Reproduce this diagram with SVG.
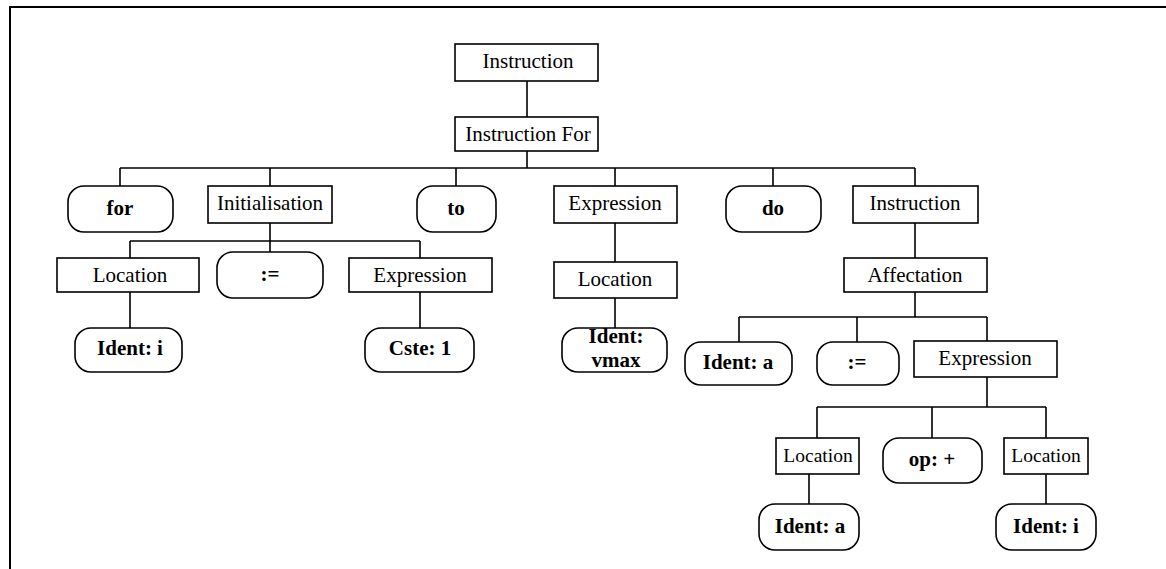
<svg xmlns="http://www.w3.org/2000/svg" width="1166" height="569" viewBox="0 0 1166 569">
<style>
.box{fill:#fff;stroke:#000;stroke-width:1.6}
.pill{fill:#fff;stroke:#000;stroke-width:1.6}
.t{font-family:"Liberation Serif","Times New Roman",serif;font-size:21px;text-anchor:middle;fill:#000}
.b{font-weight:bold}
.s{font-size:19.5px}
.c{fill:none;stroke:#000;stroke-width:1.6}
</style>
<rect width="1166" height="569" fill="#fff"/>
<path d="M10,569 V7 H1166" fill="none" stroke="#000" stroke-width="2"/>
<g id="connectors" class="c">
<path d="M527,81 V117 M527,151 V168 M120,168 H915 M120,168 V186 M270,168 V186 M456,168 V186 M615,168 V186 M773,168 V186 M915,168 V186"/>
<path d="M270,223 V241 M130,241 H420 M130,241 V258 M270,241 V252 M420,241 V258 M130,292 V328 M420,292 V328"/>
<path d="M615,223 V262 M615,298 V328"/>
<path d="M915,223 V258 M915,292 V317 M739,317 H987 M739,317 V342 M857,317 V342 M987,317 V341"/>
<path d="M987,377 V407 M817,407 H1046 M817,407 V438 M932,407 V438 M1046,407 V438 M809,474 V504 M1046,474 V504"/>
</g>
<g id="n-instruction"><rect class="box" x="455" y="44" width="143" height="37"/><text class="t" x="528" y="68">Instruction</text></g>
<g id="n-instrfor"><rect class="box" x="455" y="117" width="143" height="34"/><text class="t" x="528" y="141">Instruction For</text></g>
<g id="n-for"><rect class="pill" x="68" y="186" width="105" height="46" rx="16"/><text class="t b" x="120" y="215">for</text></g>
<g id="n-init"><rect class="box" x="208" y="186" width="124" height="37"/><text class="t" x="270" y="210">Initialisation</text></g>
<g id="n-to"><rect class="pill" x="417" y="186" width="79" height="46" rx="16"/><text class="t b" x="456" y="215">to</text></g>
<g id="n-expr-mid"><rect class="box" x="554" y="186" width="123" height="37"/><text class="t" x="615" y="210">Expression</text></g>
<g id="n-do"><rect class="pill" x="726" y="186" width="95" height="46" rx="16"/><text class="t b" x="773" y="215">do</text></g>
<g id="n-instr-right"><rect class="box" x="853" y="186" width="125" height="37"/><text class="t" x="915" y="210">Instruction</text></g>
<g id="n-loc-left"><rect class="box" x="57" y="258" width="142" height="34"/><text class="t" x="130" y="282">Location</text></g>
<g id="n-assign-left"><rect class="pill" x="217" y="252" width="106" height="46" rx="16"/><text class="t b" x="270" y="281">:=</text></g>
<g id="n-expr-left"><rect class="box" x="349" y="258" width="143" height="34"/><text class="t" x="420" y="282">Expression</text></g>
<g id="n-ident-i1"><rect class="pill" x="75" y="328" width="107" height="44" rx="16"/><text class="t b" x="130" y="355">Ident: i</text></g>
<g id="n-cste"><rect class="pill" x="365" y="328" width="109" height="44" rx="16"/><text class="t b" x="420" y="355">Cste: 1</text></g>
<g id="n-loc-mid"><rect class="box" x="554" y="262" width="123" height="36"/><text class="t" x="615" y="286">Location</text></g>
<g id="n-vmax"><rect class="pill" x="562" y="328" width="105" height="44" rx="16"/><text class="t b" x="616" y="343">Ident:</text><text class="t b" x="616" y="367">vmax</text></g>
<g id="n-affect"><rect class="box" x="844" y="258" width="143" height="34"/><text class="t" x="915" y="282">Affectation</text></g>
<g id="n-ident-a1"><rect class="pill" x="685" y="342" width="107" height="43" rx="16"/><text class="t b" x="738" y="369">Ident: a</text></g>
<g id="n-assign-right"><rect class="pill" x="817" y="342" width="82" height="43" rx="16"/><text class="t b" x="857" y="369">:=</text></g>
<g id="n-expr-right"><rect class="box" x="914" y="341" width="143" height="36"/><text class="t" x="985" y="365">Expression</text></g>
<g id="n-loc-ll"><rect class="box" x="776" y="438" width="83" height="36"/><text class="t s" x="818" y="462">Location</text></g>
<g id="n-op"><rect class="pill" x="883" y="438" width="99" height="45" rx="16"/><text class="t b" x="932" y="466">op: +</text></g>
<g id="n-loc-rr"><rect class="box" x="1004" y="438" width="84" height="36"/><text class="t s" x="1046" y="462">Location</text></g>
<g id="n-ident-a2"><rect class="pill" x="759" y="504" width="100" height="46" rx="16"/><text class="t b" x="810" y="533">Ident: a</text></g>
<g id="n-ident-i2"><rect class="pill" x="996" y="504" width="100" height="46" rx="16"/><text class="t b" x="1046" y="533">Ident: i</text></g>
</svg>
